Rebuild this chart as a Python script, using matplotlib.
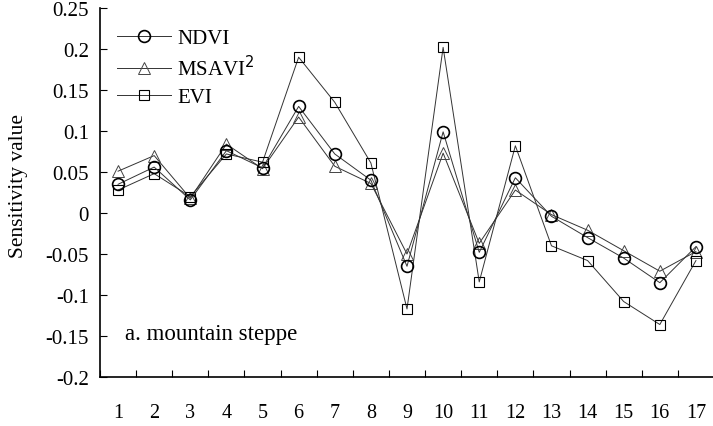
import matplotlib
matplotlib.use("Agg")
import matplotlib.pyplot as plt

categories = list(range(1, 18))
ndvi = [0.035, 0.056, 0.016, 0.076, 0.055, 0.130, 0.072, 0.040, -0.065, 0.099,
        -0.048, 0.043, -0.004, -0.030, -0.055, -0.085, -0.041]
msavi2 = [0.051, 0.070, 0.018, 0.084, 0.054, 0.117, 0.057, 0.036, -0.050, 0.073,
          -0.037, 0.028, -0.002, -0.021, -0.046, -0.071, -0.047]
evi = [0.028, 0.048, 0.020, 0.072, 0.062, 0.190, 0.135, 0.061, -0.117, 0.202,
       -0.084, 0.082, -0.040, -0.058, -0.108, -0.136, -0.058]
yticks = [0.25, 0.2, 0.15, 0.1, 0.05, 0, -0.05, -0.1, -0.15, -0.2]
ytick_labels = ["0.25", "0.2", "0.15", "0.1", "0.05", "0", "-0.05", "-0.1", "-0.15", "-0.2"]

plt.rcParams['font.family'] = ['Liberation Serif', 'DejaVu Serif']
plt.rcParams['axes.unicode_minus'] = False

fig = plt.figure(figsize=(7.13, 4.27), dpi=100)
ax = fig.add_axes([100/713, 49/427, 614/713, 369/427])

lw = 0.7
ax.plot(categories, ndvi, color='#333333', lw=lw, marker='o', ms=8.5,
        mfc='none', mec='black', mew=1.2, label='NDVI', zorder=3)
ax.plot(categories, msavi2, color='#333333', lw=lw, marker='^', ms=8.5,
        mfc='none', mec='#444444', mew=0.7, label='MSAVI$^2$', zorder=2)
ax.plot(categories, evi, color='#333333', lw=lw, marker='s', ms=7.5,
        mfc='none', mec='black', mew=0.8, label='EVI', zorder=2)

ax.set_xlim(0.5, 17.5)
ax.set_ylim(-0.2, 0.25)
ax.set_yticks(yticks)
ax.set_yticklabels(ytick_labels)
ax.set_xticks([i + 0.5 for i in range(0, 18)])
ax.set_xticklabels([])
ax.set_xticks(categories, minor=True)
ax.set_xticklabels([str(c) for c in categories], minor=True)
ax.tick_params(axis='x', which='major', direction='in', length=5, width=0.8)
ax.tick_params(axis='x', which='minor', length=0, pad=19, labelsize=14.5)
ax.tick_params(axis='y', direction='in', length=5, width=0.8, pad=8, labelsize=15)

for s in ['top', 'right']:
    ax.spines[s].set_visible(False)
for s in ['left', 'bottom']:
    ax.spines[s].set_linewidth(1.2)

ax.set_ylabel('Sensitivity value', fontsize=15.5, va='center')
ax.yaxis.set_label_coords(-81/614, 0.52)

leg = ax.legend(loc='upper left', bbox_to_anchor=(0.0, 0.99), frameon=False,
                fontsize=15, handlelength=2.6, handletextpad=0.3,
                labelspacing=0.35, borderaxespad=0.4)

ax.text(1.19, -0.1537, 'a. mountain steppe', fontsize=16.5, va='baseline')

fig.savefig('out.png', dpi=100)
